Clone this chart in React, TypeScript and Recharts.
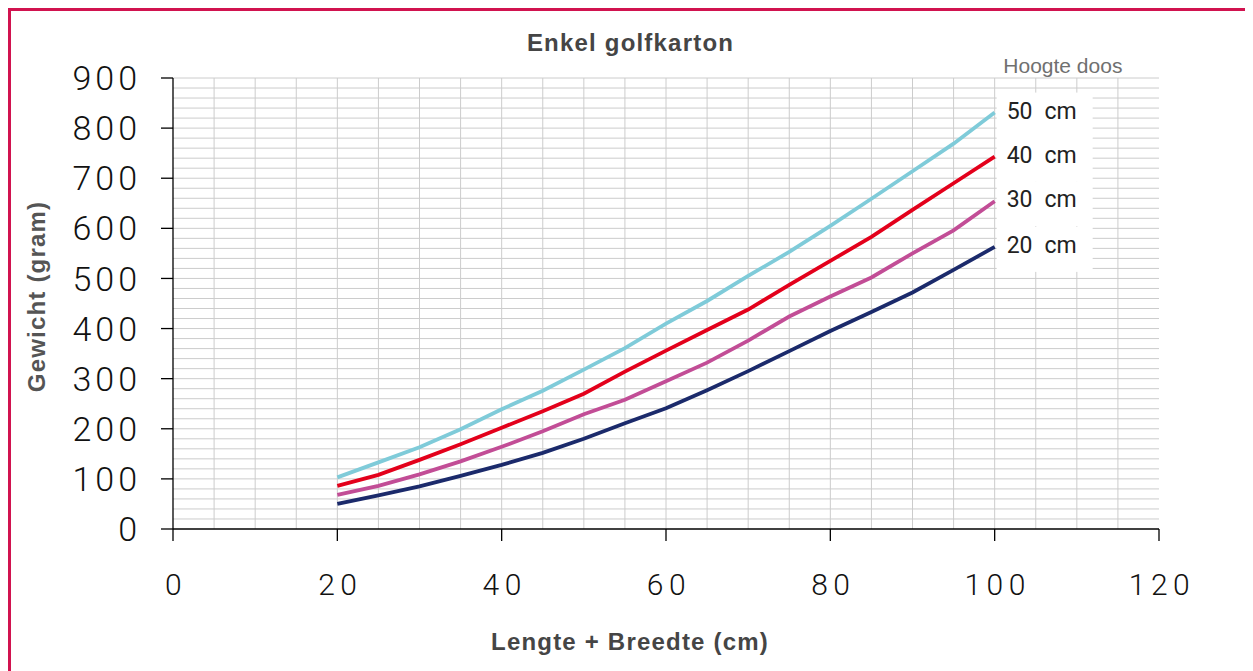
import React from 'react';
import { LineChart, Line, XAxis, YAxis, CartesianGrid, LabelList } from 'recharts';

if (typeof document !== 'undefined') {
  document.body.style.overflow = 'hidden';
}

// Lengte + Breedte (cm)
const lengthPlusWidth = [20, 25, 30, 35, 40, 45, 50, 55, 60, 65, 70, 75, 80, 85, 90, 95, 100];
// Gewicht (gram) per hoogte doos
const weight50cm = [103, 133, 163, 199, 239, 276, 318, 361, 410, 455, 505, 553, 605, 659, 714, 769, 831];
const weight40cm = [86, 108, 138, 169, 202, 235, 270, 314, 356, 397, 438, 487, 535, 583, 637, 690, 743];
const weight30cm = [68, 86, 109, 135, 164, 195, 229, 258, 295, 332, 376, 424, 464, 502, 550, 596, 654];
const weight20cm = [50, 67, 85, 106, 128, 152, 180, 211, 241, 277, 315, 355, 395, 433, 472, 517, 563];

const seriesKeys = ['h20', 'h30', 'h40', 'h50'];
const seriesNumbers = ['20', '30', '40', '50'];
const seriesColors = ['#1b2a6b', '#c24d96', '#e3001b', '#7fcbd9'];
const seriesUnit = 'cm';

const xTicks = [0, 20, 40, 60, 80, 100, 120];
const yTicks = [0, 100, 200, 300, 400, 500, 600, 700, 800, 900];
const gridXValues = Array.from({ length: 23 }, (_, i) => (i + 1) * 5);
const gridYValues = Array.from({ length: 45 }, (_, i) => (i + 1) * 20);

const title = 'Enkel golfkarton';
const xTitle = 'Lengte + Breedte (cm)';
const yTitle = 'Gewicht (gram)';
const legendTitle = 'Hoogte doos';

const data = lengthPlusWidth.map((x, i) => ({
  x,
  h20: weight20cm[i],
  h30: weight30cm[i],
  h40: weight40cm[i],
  h50: weight50cm[i],
}));

const TICK_FONT = "Roboto, 'Liberation Sans', Arial, sans-serif";
const BOLD_FONT = "'Liberation Sans', Arial, Helvetica, sans-serif";

const applyScale = (scale: any, v: number): number => {
  if (!scale) return NaN;
  if (typeof scale === 'function') return scale(v);
  if (typeof scale.map === 'function') return scale.map(v);
  if (typeof scale.apply === 'function') return scale.apply(v);
  return NaN;
};

const XTick = (props: any) => {
  const { x, y, payload } = props;
  return (
    <text x={x + 3} y={y} dy="0.71em" textAnchor="middle" fontSize={30} fontFamily={TICK_FONT}
      fontWeight={300} letterSpacing={5.5} fill="#111">
      {payload.value}
    </text>
  );
};

const YTick = (props: any) => {
  const { x, y, payload } = props;
  return (
    <text x={x} y={y} dy="0.355em" textAnchor="end" fontSize={34} fontFamily={TICK_FONT}
      fontWeight={300} letterSpacing={4} fill="#111">
      {payload.value}
    </text>
  );
};

const makeEndLabel = (num: string) => (props: any) => {
  const { x, y, index } = props;
  if (index !== data.length - 1) return null;
  return (
    <g>
      <rect x={x + 2} y={y - 20} width={96} height={45} fill="#ffffff" />
      <text x={x + 12} y={y - 2} dy="0.355em" fontSize={23} fontFamily={TICK_FONT} fontWeight={400} fill="#222">
        <tspan>{num}</tspan>
        <tspan dx={12}>{seriesUnit}</tspan>
      </text>
    </g>
  );
};

export default function App() {
  return (
    <div style={{ position: 'relative', width: 1245, height: 663 }}>
      <LineChart
        width={1245}
        height={663}
        data={data}
        margin={{ top: 70, right: 94, bottom: 82, left: 0 }}
      >
        <CartesianGrid
          stroke="#cccccc"
          strokeWidth={1}
          horizontalCoordinatesGenerator={({ yAxis }: any) =>
            gridYValues.map((v) => applyScale(yAxis && yAxis.scale, v)).filter((c) => Number.isFinite(c))
          }
          verticalCoordinatesGenerator={({ xAxis }: any) =>
            gridXValues.map((v) => applyScale(xAxis && xAxis.scale, v)).filter((c) => Number.isFinite(c))
          }
        />
        <XAxis
          dataKey="x"
          type="number"
          domain={[0, 120]}
          ticks={xTicks}
          interval={0}
          height={60}
          tickSize={12}
          tickMargin={33}
          axisLine={{ stroke: '#000', strokeWidth: 1.3 }}
          tickLine={{ stroke: '#000', strokeWidth: 1.3 }}
          tick={<XTick />}
        />
        <YAxis
          type="number"
          domain={[0, 900]}
          ticks={yTicks}
          interval={0}
          width={165}
          tickSize={12}
          tickMargin={20}
          axisLine={{ stroke: '#000', strokeWidth: 1.3 }}
          tickLine={{ stroke: '#000', strokeWidth: 1.3 }}
          tick={<YTick />}
        />
        {seriesKeys.map((k, i) => (
          <Line
            key={k}
            type="linear"
            dataKey={k}
            stroke={seriesColors[i]}
            strokeWidth={3.8}
            dot={false}
            activeDot={false}
            isAnimationActive={false}
          >
            <LabelList dataKey={k} content={makeEndLabel(seriesNumbers[i])} />
          </Line>
        ))}
      </LineChart>
      <svg
        width={1245}
        height={663}
        style={{ position: 'absolute', left: 0, top: 0, pointerEvents: 'none' }}
      >
        <text x={622.5} y={42.7} textAnchor="middle" fontSize={24} fontWeight="bold" fontFamily={BOLD_FONT}
          letterSpacing={1.2} fill="#454545">{title}</text>
        <text x={622} y={642} textAnchor="middle" fontSize={24} fontWeight="bold" fontFamily={BOLD_FONT}
          letterSpacing={1.2} fill="#454545">{xTitle}</text>
        <text x={37.3} y={288.5} textAnchor="middle" fontSize={24} fontWeight="bold" fontFamily={BOLD_FONT}
          letterSpacing={1.2} fill="#555" transform="rotate(-90, 37.3, 288.5)">{yTitle}</text>
        <text x={995.3} y={65.3} fontSize={21} fontFamily={BOLD_FONT} fill="#707070">{legendTitle}</text>
      </svg>
      <div
        style={{
          position: 'absolute',
          left: 0,
          top: 0,
          width: 1245,
          height: 663,
          boxSizing: 'border-box',
          border: '3px solid #d1134f',
          borderBottom: 'none',
          pointerEvents: 'none',
        }}
      />
    </div>
  );
}
